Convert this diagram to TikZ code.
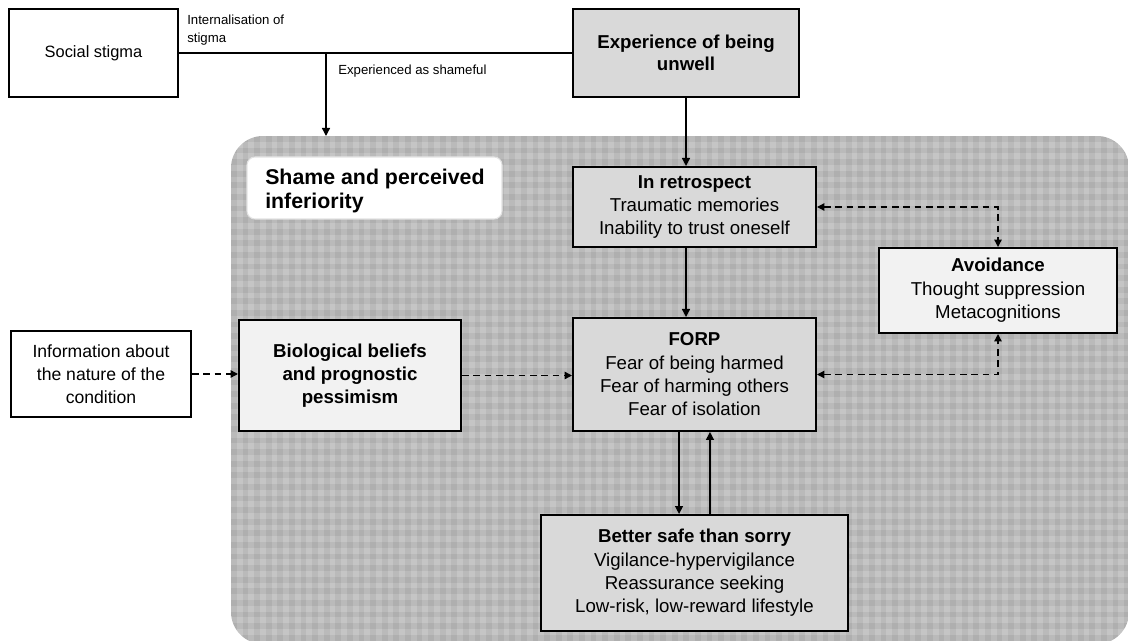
\documentclass[tikz,border=0pt]{standalone}
\usepackage{fontspec}
\setmainfont{Liberation Sans}
\usetikzlibrary{arrows.meta,calc}
\definecolor{boxgray}{HTML}{D9D9D9}
\definecolor{boxlight}{HTML}{F2F2F2}
\definecolor{zonebase}{HTML}{C5C5C5}
\definecolor{shameedge}{HTML}{E2E2E2}
\begin{document}
\begin{tikzpicture}[x=0.75pt,y=-0.75pt,
  box/.style={draw=black, line width=1.5pt, rectangle, align=center, inner sep=0pt,
              font=\fontsize{14}{17.5}\selectfont},
  conn/.style={draw=black, line width=1pt},
  tip/.style={-{Triangle[length=6pt,width=6pt]}},
  dboth/.style={{Triangle[length=5.5pt,width=5.5pt]}-{Triangle[length=5.5pt,width=5.5pt]},
                dash pattern=on 5pt off 3.5pt},
  dtip/.style={-{Triangle[length=5.5pt,width=5.5pt]}, dash pattern=on 5pt off 3.5pt},
  smalllabel/.style={anchor=north west, inner sep=0pt, align=left,
                     font=\fontsize{9.9}{13.5}\selectfont},
  stripe/.style={fill=black, opacity=0.055}
]
\useasboundingbox (0,0) rectangle (1128,641);

% chequered zone holding the inner model
\begin{scope}
  \clip[rounded corners=24pt] (231,136) rectangle (1129,644);
  \fill[zonebase] (231,136) rectangle (1129,644);
  \foreach \i in {0,...,78}
    \fill[stripe] ({231+\i*11.6},136) rectangle ++(5.8,508);
  \foreach \j in {0,...,44}
    \fill[stripe] (231,{136+\j*11.6}) rectangle ++(898,5.8);
\end{scope}

% boxes
\node[box, fill=white, minimum width=126.75pt, minimum height=66pt,
      font=\fontsize{12.3}{15}\selectfont] (social) at (93.5,53) {Social stigma};
\node[box, fill=boxgray, minimum width=169.5pt, minimum height=66pt,
      font=\fontsize{14}{16.5}\selectfont\bfseries] (exp) at (686,53) {Experience of being\\unwell};
\node[box, fill=boxgray, minimum width=182.25pt, minimum height=60pt] (retro) at (694.5,207)
  {\textbf{In retrospect}\\Traumatic memories\\Inability to trust oneself};
\node[box, fill=boxgray, minimum width=182.25pt, minimum height=84.75pt] (forp) at (694.5,374.5)
  {\textbf{FORP}\\Fear of being harmed\\Fear of harming others\\Fear of isolation};
\node[box, fill=boxlight, minimum width=178.5pt, minimum height=63.75pt] (avoid) at (998,290.5)
  {\textbf{Avoidance}\\Thought suppression\\Metacognitions};
\node[box, fill=white, minimum width=135pt, minimum height=64.5pt,
      font=\fontsize{13.2}{17.25}\selectfont] (info) at (101,374)
  {Information about\\the nature of the\\condition};
\node[box, fill=boxlight, minimum width=166.5pt, minimum height=83.25pt,
      font=\fontsize{14}{17.25}\selectfont\bfseries] (bio) at (350,375.5)
  {Biological beliefs\\and prognostic\\pessimism};
\node[box, fill=boxgray, minimum width=230.25pt, minimum height=87pt] (better) at (694.5,573)
  {\textbf{Better safe than sorry}\\Vigilance-hypervigilance\\Reassurance seeking\\Low-risk, low-reward lifestyle};

% label panel inside the zone
\node[draw=shameedge, line width=0.8pt, fill=white, rounded corners=6pt,
      minimum width=191.25pt, minimum height=46.5pt, inner sep=0pt] (shame) at (374.5,188) {};
\node[anchor=west, align=left, inner sep=0pt, font=\fontsize{16}{18}\selectfont\bfseries]
  (shametext) at (265,191) {Shame and perceived\\inferiority};

% solid connectors
\coordinate (split) at (326,53);
\coordinate (zonetop) at (326,136);
\draw[conn] (social.east) -- (exp.west);
\draw[conn,tip] (split) -- (zonetop);
\draw[conn,tip] (exp.south) -- (exp.south |- retro.north);
\draw[conn,tip] (exp.south |- retro.south) -- (exp.south |- forp.north);
\draw[conn,tip] ([xshift=-11.6pt]forp.south) -- ([xshift=-11.6pt]forp.south |- better.north);
\draw[conn,tip] ([xshift=11.6pt]forp.south |- better.north) -- ([xshift=11.6pt]forp.south);

% dashed connectors
\draw[conn,dboth] (retro.east) -| (avoid.north);
\draw[conn,dboth] (forp.east) -| (avoid.south);
\draw[conn,dtip] (info.east) -- (info.east -| bio.west);
\draw[conn,dtip] (bio.east) -- (bio.east -| forp.west);

% connector labels
\node[smalllabel] (lblint) at (187,15) {Internalisation of\\stigma};
\node[smalllabel] (lblexp) at (338,65) {Experienced as shameful};
\end{tikzpicture}
\end{document}
